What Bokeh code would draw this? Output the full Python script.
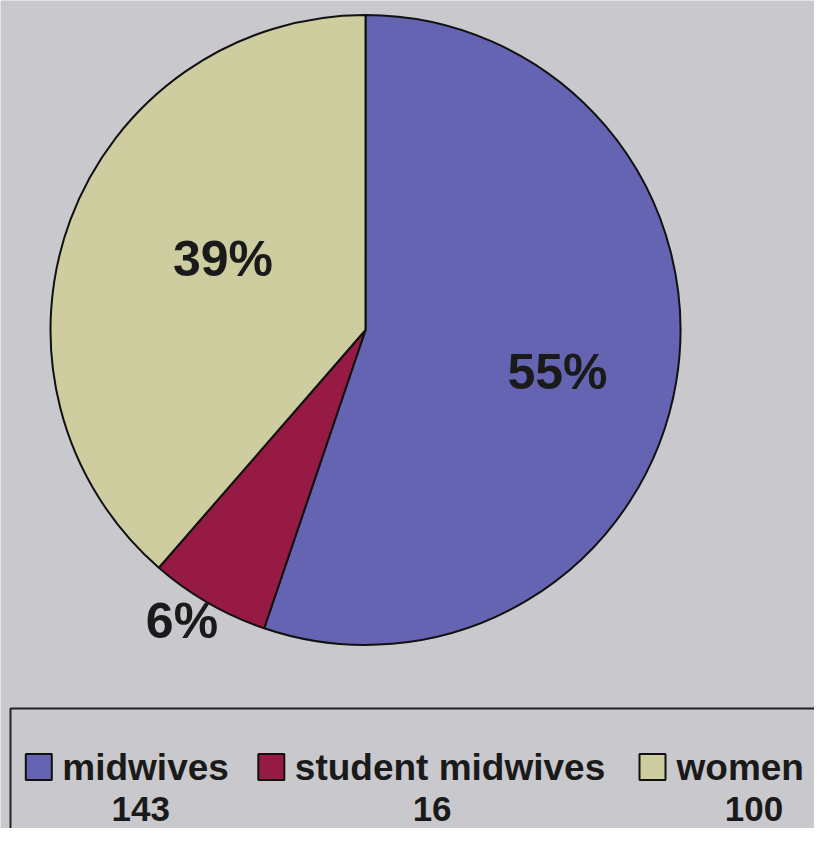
import numpy as np
from bokeh.plotting import figure
from bokeh.models import Range1d, ColumnDataSource
from bokeh.core.properties import value
from bokeh.embed import file_html
from bokeh.resources import INLINE

categories = ["midwives", "student midwives", "women"]
counts = [143, 16, 100]
pct_labels = ["55%", "6%", "39%"]
count_labels = ["143", "16", "100"]
colors = ["#6464b2", "#961a43", "#cdcd9f"]

W, H = 814, 828
BG = "#c9c9cd"
FONT = value("Liberation Sans")

p = figure(width=W, height=H, output_backend="svg", toolbar_location=None,
           x_range=Range1d(0, W), y_range=Range1d(0, H),
           min_border=0, background_fill_color=BG, border_fill_color=BG)
p.axis.visible = False
p.grid.visible = False
p.outline_line_color = None

vals = np.array(counts, dtype=float)
frac = vals / vals.sum()
cum = np.concatenate([[0.0], np.cumsum(frac)])
start = np.pi / 2 - cum[:-1] * 2 * np.pi
end = np.pi / 2 - cum[1:] * 2 * np.pi

cx, cy, r = 365, 498.5, 315
src = ColumnDataSource(dict(start=start, end=end, color=colors))
p.wedge(x=cx, y=cy, radius=r, start_angle="start", end_angle="end",
        direction="clock", fill_color="color", line_color="#111111",
        line_width=2, source=src)

# percentage labels
lab_x = [557, 181.5, 222.5]
lab_y = [457, 208, 570]
p.text(x=lab_x, y=lab_y, text=pct_labels, text_font=FONT, text_font_style="bold",
       text_font_size="50px", text_align="center", text_baseline="middle",
       text_color="#1a1a1a")

# legend box
p.quad(left=[10], right=[830], bottom=[-20], top=[120], fill_color=None,
       line_color="#222222", line_width=2)

sq_x = [38.3, 270.8, 652]
sq_y = [61.5, 61.5, 61.5]
p.rect(x=sq_x, y=sq_y, width=26, height=26, fill_color=colors,
       line_color="#111111", line_width=2)

txt_x = [61.8, 294.3, 676]
p.text(x=txt_x, y=[61, 61, 61], text=categories, text_font=FONT,
       text_font_style="bold", text_font_size="37px", text_align="left",
       text_baseline="middle", text_color="#1a1a1a")

val_x = [140.3, 431.6, 753.4]
p.text(x=val_x, y=[20, 20, 20], text=count_labels, text_font=FONT,
       text_font_style="bold", text_font_size="35px", text_align="center",
       text_baseline="middle", text_color="#1a1a1a")

open("out.html", "w").write(file_html(p, INLINE))
